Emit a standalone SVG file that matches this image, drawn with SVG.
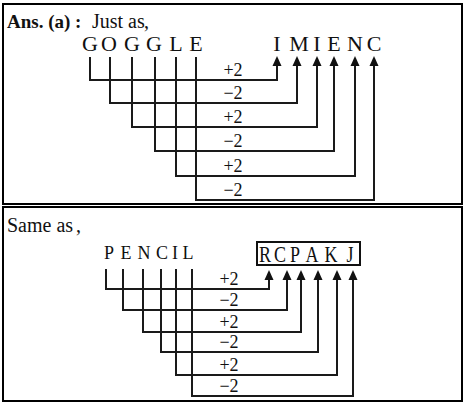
<svg xmlns="http://www.w3.org/2000/svg" width="472" height="409" viewBox="0 0 472 409">
<style>
  .frame{fill:none;stroke:#000;stroke-width:2}
  .t{font-family:"Liberation Serif","Times New Roman",serif;fill:#111}
  .big{font-size:22px;text-anchor:middle}
  .mid{font-size:18px;text-anchor:middle}
  .tall{font-size:24px;text-anchor:middle}
  .lbl{font-size:18px;text-anchor:middle}
  .hdr{font-size:20px}
  .conn path{fill:none;stroke:#1a1a1a;stroke-width:2;stroke-linejoin:miter;marker-end:url(#ah)}
</style>
<defs>
  <marker id="ah" viewBox="0 0 10 10" refX="6" refY="5" markerWidth="10" markerHeight="10" markerUnits="userSpaceOnUse" orient="auto">
    <path d="M0,0.5 L10,5 L0,9.5 z" fill="#111"/>
  </marker>
</defs>
<rect width="472" height="409" fill="#fff"/>
<rect class="frame" x="3" y="4" width="459" height="200"/>
<rect class="frame" x="3" y="207" width="459" height="194"/>

<!-- Panel 1 -->
<g id="header1" class="t hdr">
  <text x="7" y="28"><tspan font-weight="bold" font-size="19">Ans. (a) :</tspan><tspan x="92">Just as</tspan><tspan x="144">,</tspan></text>
</g>
<g id="src-GOGGLE" class="t big">
  <text x="90" y="51">G</text><text x="109" y="51">O</text><text x="132" y="51">G</text>
  <text x="154" y="51">G</text><text x="176" y="51">L</text><text x="196" y="51">E</text>
</g>
<g id="dst-IMIENC" class="t big">
  <text x="277" y="51">I</text><text x="299" y="51">M</text><text x="317" y="51">I</text>
  <text x="334" y="51">E</text><text x="355" y="51">N</text><text x="374" y="51">C</text>
</g>
<g id="connectors1" class="conn">
  <path d="M90,57 V80 H277 V60"/>
  <path d="M110,57 V103 H297 V60"/>
  <path d="M132,57 V127 H317 V60"/>
  <path d="M155,57 V151 H334 V60"/>
  <path d="M176,57 V176 H355 V60"/>
  <path d="M196,57 V200 H374 V60"/>
</g>
<g id="labels1" class="t lbl">
  <text x="233" y="76">+2</text><text x="233" y="99">−2</text><text x="233" y="123">+2</text>
  <text x="233" y="147">−2</text><text x="233" y="172">+2</text><text x="233" y="196">−2</text>
</g>

<!-- Panel 2 -->
<g id="header2" class="t hdr">
  <text x="7" y="232">Same as</text><text x="76" y="232">,</text>
</g>
<g id="src-PENCIL" class="t mid">
  <text x="109" y="259">P</text><text x="126" y="259">E</text><text x="144" y="259">N</text>
  <text x="162" y="259">C</text><text x="175" y="259">I</text><text x="188" y="259">L</text>
</g>
<g id="dst-RCPAKJ">
  <rect x="257" y="242" width="103" height="23" fill="none" stroke="#111" stroke-width="2"/>
  <g class="t tall">
    <text transform="translate(265,262) scale(0.75,1)">R</text>
    <text transform="translate(280,262) scale(0.75,1)">C</text>
    <text transform="translate(295,262) scale(0.75,1)">P</text>
    <text transform="translate(312,262) scale(0.75,1)">A</text>
    <text transform="translate(331,262) scale(0.75,1)">K</text>
    <text transform="translate(350,262) scale(0.75,1)">J</text>
  </g>
</g>
<g id="connectors2" class="conn">
  <path d="M106,269 V289 H269 V274"/>
  <path d="M123,269 V310 H287 V274"/>
  <path d="M143,269 V332 H301 V274"/>
  <path d="M161,269 V352 H318 V274"/>
  <path d="M176,269 V375 H337 V274"/>
  <path d="M192,269 V396 H353 V274"/>
</g>
<g id="labels2" class="t lbl">
  <text x="229" y="285">+2</text><text x="229" y="306">−2</text><text x="229" y="328">+2</text>
  <text x="229" y="348">−2</text><text x="229" y="371">+2</text><text x="229" y="392">−2</text>
</g>
</svg>
